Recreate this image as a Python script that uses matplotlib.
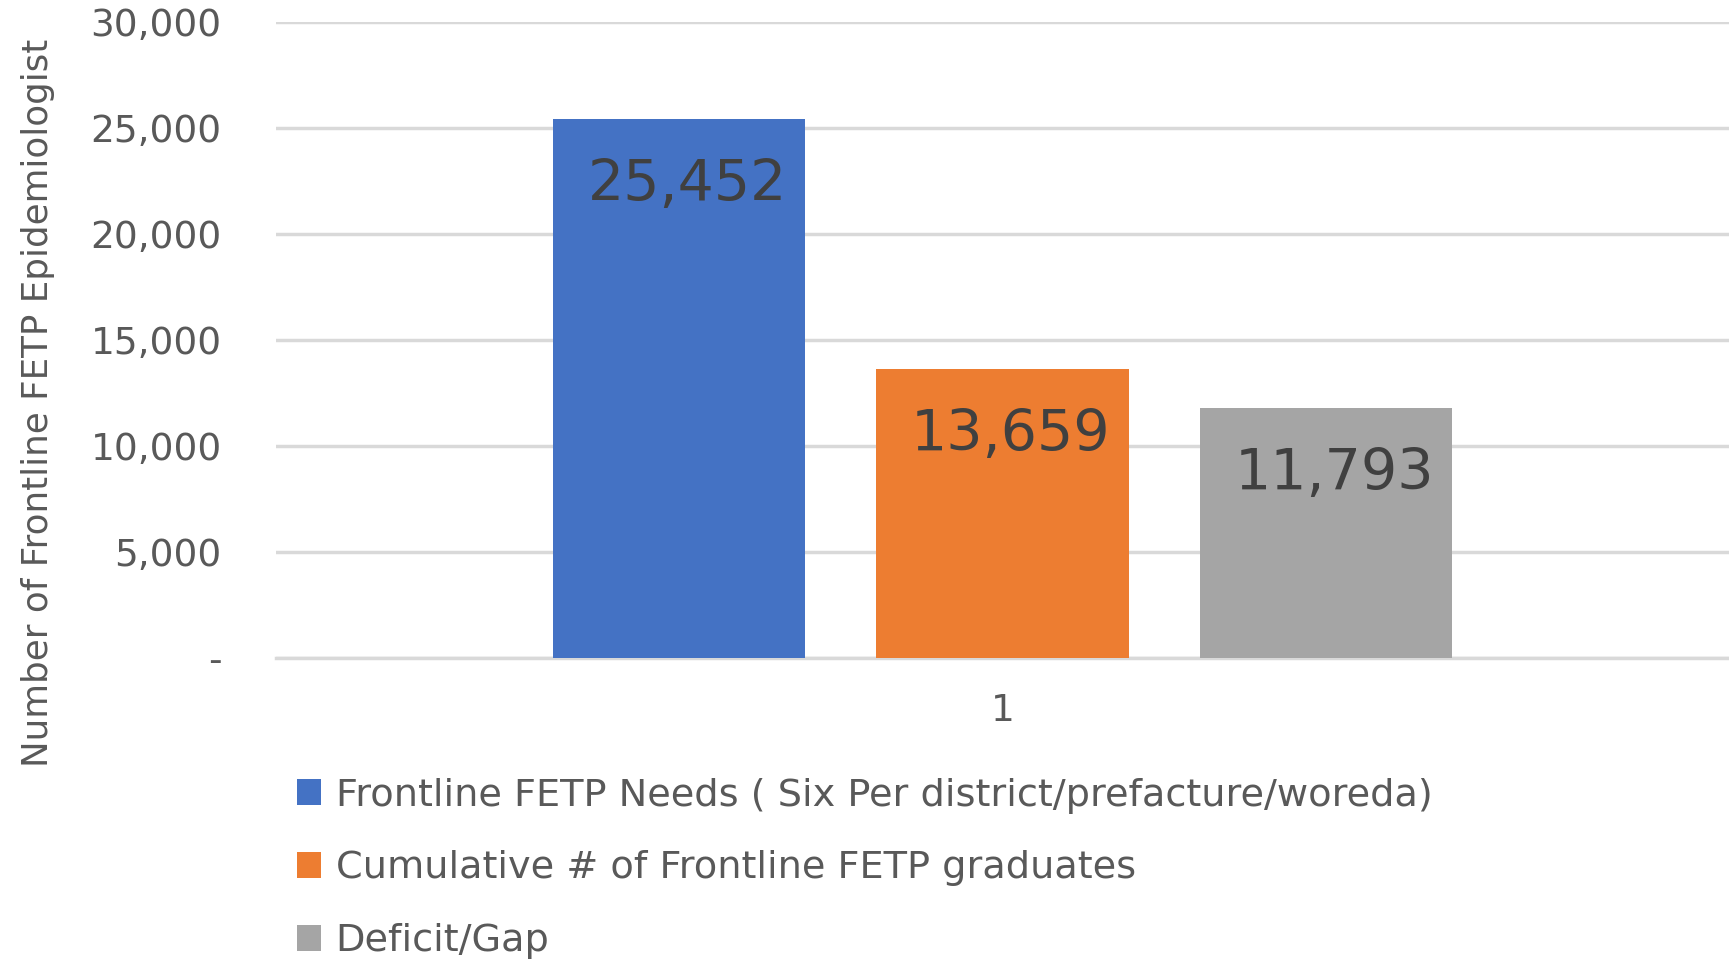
import matplotlib.pyplot as plt
import numpy as np

# data
series = ['Frontline FETP Needs ( Six Per district/prefacture/woreda)',
          'Cumulative # of Frontline FETP graduates',
          'Deficit/Gap']
values = [25452, 13659, 11793]
colors = ['#4472C4', '#ED7D31', '#A5A5A5']
category = '1'

plt.rcParams['font.family'] = ['DejaVu Sans']

fig = plt.figure(figsize=(17.29, 9.65), dpi=100)
ax = fig.add_axes([0.1596, 0.318, 0.8404, 0.659])

offs = np.array([-1, 0, 1]) * 0.2226
bars = []
for i, (lab, v, c) in enumerate(zip(series, values, colors)):
    b = ax.bar(offs[i], v, 0.174, color=c, label=lab, zorder=3)
    bars.append(b)
    ax.annotate(f'{v:,}', (offs[i], v), xytext=(6, -48), textcoords='offset points',
                ha='center', va='center', fontsize=41, color='#404040', zorder=4)

ax.set_xlim(-0.5, 0.5)
ax.set_ylim(0, 30000)
ax.set_yticks(np.arange(0, 30001, 5000))
ax.set_yticklabels(['-' if t == 0 else f'{t:,}' for t in range(0, 30001, 5000)])
ax.set_xticks([0])
ax.set_xticklabels([category])
ax.tick_params(axis='both', length=0, labelsize=27, colors='#595959')
ax.tick_params(axis='y', pad=39)
ax.tick_params(axis='x', pad=25)
ax.grid(axis='y', color='#d9d9d9', linewidth=2.5, zorder=0)
for s in ['top', 'right', 'left']:
    ax.spines[s].set_visible(False)
ax.spines['bottom'].set_color('#d9d9d9')
ax.spines['bottom'].set_linewidth(2.5)

fig.text(0.0217, 0.583, 'Number of Frontline FETP Epidemiologist', rotation=90,
         ha='center', va='center', fontsize=25.7, color='#595959')

fig.legend(handles=[b[0] for b in bars], labels=series, loc='upper left',
           bbox_to_anchor=(0.172, 0.194), frameon=False, fontsize=27.5,
           labelcolor='#595959', handlelength=0.63, handleheight=0.67,
           handletextpad=0.37, labelspacing=0.96, borderpad=0, borderaxespad=0)

fig.savefig('out.png', dpi=100)
